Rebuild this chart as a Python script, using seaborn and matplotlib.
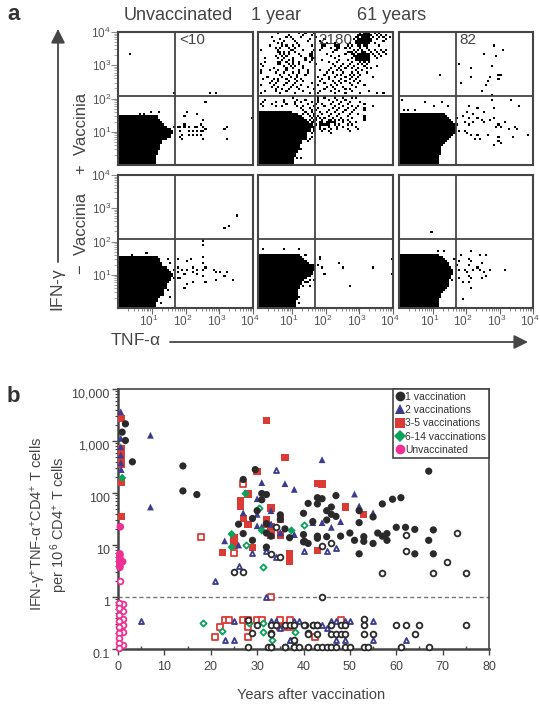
import numpy as np
import pandas as pd
import matplotlib
matplotlib.use("Agg")
import matplotlib.pyplot as plt
from matplotlib.colors import ListedColormap
from matplotlib.lines import Line2D
from matplotlib.transforms import ScaledTranslation
import seaborn as sns

# panel a: flow plots on a 64 channel grid (16 channels per decade)
# blob = last filled channel for each row, counted from the bottom
blob_vac_unvacc = [17,17,17,17,17,18,18,19,19,19,20,20,22,24,24,25,25,24,22,21,20,19,18,18]
blob_vac_1yr = [16,16,16,16,17,17,18,18,19,19,20,20,21,21,22,22,23,23,23,23,23,22,21,20,18,15]
blob_vac_61yr = [18,18,18,18,18,19,19,19,19,20,21,22,23,24,25,26,26,26,26,26,25,24,23,22,21]
blob_novac_unvacc = [17,17,17,18,18,19,20,21,21,22,22,22,23,24,24,25,25,24,23,22,20,20,19,19,18]
blob_novac_1yr = [17,17,17,17,18,18,18,18,18,19,19,20,20,21,22,24,25,25,26,26,25,23,22,21,20,19]
blob_novac_61yr = [18,18,18,18,18,19,19,20,21,22,23,23,23,23,24,24,25,25,25,24,23,23,22,21,20,18]

dots_x_vac_unvacc = [5,26,43,46,41,32,37,31,40,63,31,39,26,28,29,31,33,36,37,40,41,29,33,35,37,39,40,30,33,35,37,39,29,40,30,50,51,51,10,12,15,19]
dots_y_vac_unvacc = [53,34,34,34,30,25,24,23,21,22,19,19,18,18,18,18,18,18,18,18,17,16,16,16,16,16,16,14,14,14,14,14,13,12,12,17,18,12,24,24,25,25]

dots_x_vac_61yr = [45,49,40,46,28,34,44,19,34,43,47,48,47,29,42,41,39,1,44,44,53,57,12,16,20,23,7,2,4,33,37,45,40,32,30,35,27,33,37,31,33,35,39,43,45,47,50,46,48,40,52,55,56,61,54,47,42,37,31,32,34,36,38,47,45,48,27,28]
dots_y_vac_61yr = [57,55,53,52,48,46,47,43,42,42,41,43,43,39,40,38,35,31,33,31,31,28,30,28,30,28,26,26,26,28,27,27,25,25,23,24,22,22,22,20,19,20,21,21,22,19,20,18,18,20,17,18,17,14,13,13,14,14,16,15,14,12,12,11,9,10,19,16]

dots_x_novac_unvacc = [56,52,50,40,40,13,6,23,24,28,32,34,40,40,41,26,28,30,32,35,37,40,28,31,35,37,40,45,46,48,51,50,54,46,41,35,32,31,26,28,29,23,21,20,24,20]
dots_y_novac_unvacc = [44,39,38,32,30,26,25,23,21,23,22,23,24,21,19,18,19,18,18,19,18,18,17,16,17,16,15,18,17,17,17,15,13,13,12,12,11,9,14,14,14,8,6,6,5,2]

dots_x_novac_1yr = [2,12,19,1,22,29,29,26,28,30,31,38,40,54,63,63,43,26,24,23,22,24,21,19,19]
dots_y_novac_1yr = [28,28,28,25,25,24,23,20,20,19,16,21,19,19,23,16,10,13,13,12,12,10,10,5,2]

dots_x_novac_61yr = [15,18,21,29,34,38,41,33,34,39,33,28,26,27,28,31,32,33,35,35,37,38,40,41,43,39,50,34,33,34,30,30,28,25,24,22,20,18]
dots_y_novac_61yr = [36,27,27,25,27,25,25,23,22,21,20,22,23,20,18,18,17,15,18,18,19,18,17,15,18,14,18,14,12,9,4,12,14,13,15,10,8,2]

# the responding sample has too many events for two flat lists, so it goes by row
rows_vac_1yr = [
    (63, [9,19,22,26,48,50,51,52,55,57]),
    (62, [14,21,25,47,48,49,50,51,52,53,56,58,60]),
    (61, [6,13,15,20,27,46,47,49,50,51,52,54,57,59,62]),
    (60, [10,16,24,31,45,47,48,49,50,51,52,53,56,60]),
    (59, [7,12,17,23,29,46,47,48,49,50,51,52,53,59]),
    (58, [9,11,18,30,32,36,43,46,47,48,49,50,51,52,55]),
    (57, [5,11,13,16,19,25,30,31,36,37,38,42,44,47,48,50,51,57]),
    (56, [8,10,14,17,30,34,37,38,41,43,48,51]),
    (55, [1,9,15,16,21,26,29,36,37,45,47,49,52,55,58,60]),
    (54, [9,10,12,14,17,25,35,42,43,44,46,49,50,53,56,59]),
    (53, [10,12,14,19,24,25,32,41,44,45,47,48,49,50,51,52,54,57,60]),
    (52, [8,11,13,20,24,25,34,38,45,46,47,48,49,50,51,52,55,58]),
    (51, [3,9,12,16,22,25,26,36,44,46,47,48,49,50,51,52,56]),
    (50, [11,14,16,22,25,30,38,42,46,47,48,49,50,51,52]),
    (49, [3,9,10,13,16,19,24,33,37,44,48,50,52]),
    (48, [1,9,10,14,16,19,27,35,40,43,47,49,51]),
    (47, [2,12,15,17,21,36,39,42,45,50,56]),
    (46, [7,13,16,21,34,38,41,44,47,51,53]),
    (45, [1,5,9,13,19,23,29,33,37,39,46,49]),
    (44, [1,8,12,16,19,23,32,35,40,44,47,51]),
    (43, [10,14,18,22,31,37,39,43,45,48]),
    (42, [4,11,15,18,28,33,36,41,44,47,54]),
    (41, [2,7,9,13,17,20,30,33,39,43,46]),
    (40, [6,9,14,18,21,29,35,38,41,45,48]),
    (39, [5,8,13,17,25,31,36,39,43,47]),
    (38, [1,7,12,16,20,28,34,37,44,50]),
    (37, [6,9,15,18,23,32,35,40,46]),
    (36, [8,11,14,19,26,31,36,41,43]),
    (35, [3,8,13,21,29,34,38,44,52]),
    (34, [1,10,17,24,28,36,41,48,56,59]),
    (32, [16,28,31,36,40,44,46]),
    (31, [3,12,18,22,28,33,37,41]),
    (30, [2,8,12,17,20,25,28,35,39,43,48]),
    (29, [1,6,13,17,23,27,30,34,38,42,50]),
    (28, [2,8,11,18,21,26,31,36,40,44,47,54]),
    (27, [20,24,28,35,38,42,46,50]),
    (26, [21,25,27,33,37,41,45,50]),
    (25, [22,25,29,32,36,40,44]),
    (24, [21,23,26,30,34,38,43,47]),
    (23, [24,26,28,33,37,42,50]),
    (22, [25,27,29,31,35,39,44,50]),
    (21, [24,26,27,30,33,34,36,38,40,42,50]),
    (20, [23,25,26,29,30,32,33,34,35,36,40,43,46]),
    (19, [24,25,27,29,30,31,32,33,36,38,42,44]),
    (18, [24,25,26,29,33,37,40,46]),
    (17, [24,26,29,31,34,37,42,47]),
    (16, [24,26,30,33,43]),
    (15, [22,25,34]),
    (13, [22,25]),
    (12, [22,24]),
    (11, [20,23]),
    (10, [20]),
    (7, [19,20]),
    (3, [18,20]),
]

gate_x = 27
gate_y = 33

# panel b: years after vaccination and log10 of the cell frequency
one_x = [0.9,1.6,1.6,3.1,14,14,17,27,29.6,31,32,31,35,30,29,26,32,36,27,32,33,37,29,40,40,41,43,43,44,40,42,43,41,47,46,45,46,47,45,52,52,55,57,59.2,61,67,60,62,64,68,56,58,57,58,50,48,45,43,51,53,53,55,67,35,52,64,68,32]
one_y = [3.17,3.33,3.01,2.6,2.52,2.04,1.97,2.26,2.45,1.99,1.97,1.87,1.58,1.66,1.51,1.40,1.41,1.31,1.22,1.23,1.17,1.14,1.09,1.20,1.06,1.80,1.91,1.79,1.89,1.61,1.45,1.17,1.03,1.95,1.73,1.66,1.59,1.55,1.48,1.66,1.43,1.54,1.79,1.88,1.91,2.42,1.34,1.34,1.30,1.29,1.23,1.22,1.17,1.09,1.23,1.17,1.16,1.13,1.09,1.16,1.07,1.03,1.09,1.49,0.83,0.83,0.83,0.96]
one_open_x = [73,62,34,40,44,46,62,33,35,71,57,68,75,44,25,27,28,28,29,30,33,33,32.4,36,38,40.3,42,43,41,33,36,38,39,41,43,44,45,46,47,49,50,53,54,61,67,33,41,43,46,47,48,49,53,55,64,33,34,36,37,38,40,42,43,46,48,49,53,60,62,65,75,53,38]
one_open_y = [1.23,1.2,1.35,1.07,0.98,1.03,0.88,0.83,0.76,0.68,0.47,0.47,0.47,0.0,0.49,0.49,-0.44,-0.97,-0.7,-0.54,-0.7,-0.97,-0.97,-0.97,-0.97,-0.54,-0.54,-0.54,-0.7,-0.97,-0.97,-0.97,-0.97,-0.97,-0.97,-0.97,-0.97,-0.97,-0.97,-0.97,-0.97,-0.97,-0.97,-0.97,-0.97,-0.71,-0.71,-0.71,-0.71,-0.71,-0.71,-0.71,-0.71,-0.71,-0.71,-0.54,-0.54,-0.54,-0.54,-0.54,-0.54,-0.54,-0.54,-0.54,-0.54,-0.54,-0.54,-0.54,-0.54,-0.54,-0.54,-0.42,-0.83]

two_x = [0.6,7,0.6,0.6,0.6,0.6,0.7,7,44,31,36,38,51,52,55,55,48,46,44,42,38,35,33,33,31,30,30,27,30,31,23,26,35,33,32,38]
two_y = [3.56,3.11,3.05,2.89,2.73,2.58,2.45,1.73,2.64,2.2,2.18,2.07,1.98,1.75,1.62,1.57,1.45,1.34,1.43,1.43,1.2,1.23,1.66,1.4,1.35,1.89,1.59,1.62,1.37,1.34,1.08,1.0,1.24,1.4,0.95,1.2]
two_open_x = [34,21,26,29,5,23,25,25,37,38,33,34,39,35,32,38,44,45,46,47,49,50,55,37,47,49,55,62,40,32,34,45,47]
two_open_y = [2.44,0.31,0.6,0.85,-0.46,-0.83,-0.83,-0.47,-0.83,-0.83,-0.47,-0.47,-0.47,-0.6,0.0,-0.47,-0.54,-0.6,-0.46,-0.46,-0.46,-0.46,-0.46,-0.83,-0.83,-0.83,-0.83,-0.83,0.89,0.89,0.76,0.89,0.95]

three_x = [0.7,0.7,0.7,0.7,0.7,0.7,0.7,32,30,28,26.4,26.4,33,27,28,32,32,36,44,49,53,33,35,43,25,25,29,22.6,37,37,43,33,35,35]
three_y = [3.43,2.85,2.75,2.65,2.55,2.2,1.55,3.39,2.41,1.98,1.85,1.75,1.71,1.51,1.4,1.48,1.4,2.68,2.17,1.73,1.59,1.35,1.51,0.89,1.14,1.0,0.95,0.85,0.83,0.68,2.18,1.19,1.19,1.49]
three_open_x = [18,27,33,25,21,22,23,24,27,28,28,30,31,33,35,37,35,36,37,48,42.5,28]
three_open_y = [1.16,2.18,1.23,0.85,-0.77,-0.58,-0.44,-0.44,-0.44,-0.58,-0.77,-0.44,-0.44,0.0,-0.44,-0.44,-0.58,-0.58,-0.58,-0.44,-0.77,-0.44]

six_x = [0.9,27.5,24.5,24.5,31,37.4]
six_y = [2.29,1.99,1.21,0.96,1.28,1.28]
six_open_x = [30.4,27.5,40,31.3,18.3,22.4,28.3,31.3,31.3,33.3,38.2]
six_open_y = [1.71,1.0,1.38,0.58,-0.5,-0.65,-0.5,-0.5,-0.68,-0.82,-0.68]

unvacc_x = [0.5,0.4,0.4,0.4,0.4,0.4,0.4,0.4,1.0]
unvacc_y = [1.35,0.83,0.8,0.75,0.7,0.65,0.6,0.57,0.68]
unvacc_open_x = [0.5,1,1,1,1,1,1,0.3,0.3,0.3,0.3,0.3,0.3,0.3,0.3,0.3]
unvacc_open_y = [0.30,-0.13,-0.27,-0.42,-0.54,-0.67,-0.93,-0.12,-0.22,-0.35,-0.47,-0.58,-0.7,-0.79,-0.89,-0.99]

y_ticks_b = [0.1, 1, 10, 100, 1000, 10000]
y_labels_b = ["0.1", "1", "10", "100", "1,000", "10,000"]
x_ticks_b = [0, 10, 20, 30, 40, 50, 60, 70, 80]
group_names = ["1 vaccination", "2 vaccinations", "3-5 vaccinations", "6-14 vaccinations", "Unvaccinated"]

DARK = "#454545"
W, H = 540, 704

sns.set_theme(style="ticks")
plt.rcParams["font.family"] = ["Liberation Sans", "DejaVu Sans"]
plt.rcParams["mathtext.fontset"] = "custom"
plt.rcParams["mathtext.rm"] = "Liberation Sans"
plt.rcParams["mathtext.it"] = "Liberation Sans:italic"
plt.rcParams["mathtext.bf"] = "Liberation Sans:bold"
plt.rcParams["mathtext.default"] = "regular"


def box(x0, y0, x1, y1):
    return [x0 / W, 1 - y1 / H, (x1 - x0) / W, (y1 - y0) / H]


def flow_grid(blob, xs, ys):
    grid = np.zeros((64, 64))
    for row, right in enumerate(blob):
        grid[row, :right + 1] = 1
    grid[np.array(ys), np.array(xs)] = 1
    return grid


def flow_panel(rect, grid, left, bottom):
    ax = fig.add_axes(box(*rect))
    sns.heatmap(grid, ax=ax, cmap=ListedColormap(["white", "black"]), vmin=0, vmax=1,
                cbar=False, xticklabels=False, yticklabels=False)
    ax.set_xlim(0, 64)
    ax.set_ylim(0, 64)
    ax.axvline(gate_x, color=DARK, lw=1.3)
    ax.axhline(gate_y, color=DARK, lw=1.3)
    for s in ax.spines.values():
        s.set_visible(True)
        s.set_color(DARK)
        s.set_linewidth(1.5)
    minor = [16 * (d + np.log10(k)) for d in range(4) for k in range(2, 10)]
    major = [16, 32, 48, 64]
    labels = [f"$10^{{{i}}}$" for i in range(1, 5)]
    ax.tick_params(which="both", left=False, bottom=False)
    if left:
        ax.set_yticks(major, labels)
        ax.set_yticks(minor, minor=True)
        ax.tick_params(axis="y", which="major", left=True, length=5, width=0.8, color="#888888",
                       labelsize=8.5, labelcolor="#555555", pad=0)
        ax.tick_params(axis="y", which="minor", left=True, length=3, width=0.6, color="#999999")
    if bottom:
        ax.set_xticks(major, labels, rotation=0)
        ax.set_xticks(minor, minor=True)
        ax.tick_params(axis="x", which="major", bottom=True, length=4, width=0.8, color="#666666",
                       labelsize=8.5, labelcolor="#555555", pad=0)
        ax.tick_params(axis="x", which="minor", bottom=True, length=2, width=0.6, color="#777777")
        nudge = ScaledTranslation(-3 / 100, 0, fig.dpi_scale_trans)
        for lab in ax.get_xticklabels():
            lab.set_transform(lab.get_transform() + nudge)
    return ax


fig = plt.figure(figsize=(W / 100, H / 100), dpi=100)

# overlay in pixel coordinates for the loose labels and long arrows
page = fig.add_axes([0, 0, 1, 1])
page.set_xlim(0, W)
page.set_ylim(H, 0)
page.axis("off")

dots_x_vac_1yr = [x for y, xs in rows_vac_1yr for x in xs]
dots_y_vac_1yr = [y for y, xs in rows_vac_1yr for x in xs]

flow_panel((118, 32, 253, 165), flow_grid(blob_vac_unvacc, dots_x_vac_unvacc, dots_y_vac_unvacc), True, False)
flow_panel((258, 32, 393, 165), flow_grid(blob_vac_1yr, dots_x_vac_1yr, dots_y_vac_1yr), False, False)
flow_panel((399, 32, 533, 165), flow_grid(blob_vac_61yr, dots_x_vac_61yr, dots_y_vac_61yr), False, False)
flow_panel((118, 175, 253, 308), flow_grid(blob_novac_unvacc, dots_x_novac_unvacc, dots_y_novac_unvacc), True, True)
flow_panel((258, 175, 393, 308), flow_grid(blob_novac_1yr, dots_x_novac_1yr, dots_y_novac_1yr), False, True)
flow_panel((399, 175, 533, 308), flow_grid(blob_novac_61yr, dots_x_novac_61yr, dots_y_novac_61yr), False, True)

# panel b
ax = fig.add_axes(box(118, 389, 489, 649))
colors = {"1 vaccination": "#2a2a2a", "2 vaccinations": "#3b3b8f", "3-5 vaccinations": "#dc3b35",
          "6-14 vaccinations": "#0aa35c", "Unvaccinated": "#ee2f93"}
markers = {"1 vaccination": "o", "2 vaccinations": "^", "3-5 vaccinations": "s",
           "6-14 vaccinations": "D", "Unvaccinated": "o"}
sizes = {"1 vaccination": 27, "2 vaccinations": 24, "3-5 vaccinations": 28,
         "6-14 vaccinations": 18, "Unvaccinated": 30}
open_sizes = {"1 vaccination": 17, "2 vaccinations": 13, "3-5 vaccinations": 17,
              "6-14 vaccinations": 10, "Unvaccinated": 17}
series = {
    "3-5 vaccinations": (three_x, three_y, three_open_x, three_open_y),
    "2 vaccinations": (two_x, two_y, two_open_x, two_open_y),
    "6-14 vaccinations": (six_x, six_y, six_open_x, six_open_y),
    "1 vaccination": (one_x, one_y, one_open_x, one_open_y),
    "Unvaccinated": (unvacc_x, unvacc_y, unvacc_open_x, unvacc_open_y),
}

ax.axhline(1, color="#777777", lw=1, ls=(0, (3, 2)), zorder=1)
for name, (fx, fy, ox, oy) in series.items():
    filled = pd.DataFrame({"years": fx, "freq": 10 ** np.array(fy)})
    empty = pd.DataFrame({"years": ox, "freq": 10 ** np.array(oy)})
    sns.scatterplot(data=empty, x="years", y="freq", ax=ax, marker=markers[name], s=open_sizes[name],
                    facecolor="white", edgecolor=colors[name], linewidth=1.3, clip_on=False, zorder=3, legend=False)
    sns.scatterplot(data=filled, x="years", y="freq", ax=ax, marker=markers[name], s=sizes[name],
                    color=colors[name], edgecolor="none", linewidth=0, clip_on=False, zorder=3, legend=False)

ax.set_yscale("log")
ax.set_xlim(0, 80)
ax.set_ylim(0.1, 10000)
ax.set_xlabel("")
ax.set_ylabel("")
ax.set_xticks(x_ticks_b)
ax.set_xticks(np.arange(5, 80, 10), minor=True)
ax.set_yticks(y_ticks_b, y_labels_b)
ax.tick_params(axis="x", which="major", length=4, width=1, color=DARK, labelsize=9, labelcolor="#444444", pad=5)
ax.tick_params(axis="x", which="minor", direction="in", length=2, width=1, color=DARK)
ax.tick_params(axis="y", which="major", length=4, width=1, color=DARK, labelsize=9, labelcolor="#444444", pad=2)
ax.tick_params(axis="y", which="minor", length=2, width=0.8, color=DARK)
shift = ScaledTranslation(0, -4 / 100, fig.dpi_scale_trans)
for lab in ax.get_yticklabels():
    lab.set_transform(lab.get_transform() + shift)
for side, s in ax.spines.items():
    s.set_visible(True)
    s.set_color(DARK)
    s.set_linewidth(1.8 if side in ("left", "bottom") else 1.2)

handles = [Line2D([], [], ls="none", marker=markers[n], color=colors[n], markeredgewidth=0,
                  markersize=7 if n != "6-14 vaccinations" else 6) for n in group_names]
leg = ax.legend(handles, group_names, loc="upper right", bbox_to_anchor=(1, 1), borderaxespad=0,
                frameon=True, fancybox=False, framealpha=1, edgecolor=DARK, fontsize=7.5,
                labelcolor="#333333", handletextpad=0.15, handlelength=0.8, labelspacing=0.32,
                borderpad=0.25)
leg.get_frame().set_linewidth(1.2)

# loose text and arrows
page.set_zorder(5)
page.text(7, 15, "a", fontsize=16, fontweight="bold", color="#333333", ha="left", va="center")
page.text(7, 397, "b", fontsize=16, fontweight="bold", color="#333333", ha="left", va="center")
page.text(124, 15, "Unvaccinated", fontsize=13, color="#444444", ha="left", va="center")
page.text(251, 15, "1 year", fontsize=13, color="#444444", ha="left", va="center")
page.text(357, 15, "61 years", fontsize=13, color="#444444", ha="left", va="center")
page.text(179, 40, "<10", fontsize=11, color="#444444", ha="left", va="center")
page.text(318, 40, "2180", fontsize=11, color="#444444", ha="left", va="center")
page.text(459, 40, "82", fontsize=11, color="#444444", ha="left", va="center")
page.text(82, 133, "+  Vaccinia", fontsize=12, color="#444444", rotation=90, ha="center", va="center")
page.text(82, 233, "\u2212  Vaccinia", fontsize=12, color="#444444", rotation=90, ha="center", va="center")
page.text(58, 290, "IFN-$\\gamma$", fontsize=12.5, color="#444444", rotation=90, ha="center", va="center")
page.text(110, 340, "TNF-$\\alpha$", fontsize=12.5, color="#444444", ha="left", va="center")
arrow = dict(arrowstyle="-|>,head_length=0.7,head_width=0.35", color=DARK, lw=1.3, shrinkA=0, shrinkB=0)
page.annotate("", xy=(58, 29), xytext=(58, 262), arrowprops=arrow)
page.annotate("", xy=(528, 342), xytext=(170, 342), arrowprops=arrow)
page.text(39, 524, "IFN-$\\gamma^{+}$TNF-$\\alpha^{+}$CD4$^{+}$ T cells", fontsize=10.5, color="#444444",
          rotation=90, ha="center", va="center")
page.text(59, 525, "per 10$^{\\,6}$ CD4$^{+}$ T cells", fontsize=10.5, color="#444444",
          rotation=90, ha="center", va="center")
page.text(311, 695, "Years after vaccination", fontsize=10.5, color="#444444", ha="center", va="center")

fig.savefig("out.png", dpi=100)
